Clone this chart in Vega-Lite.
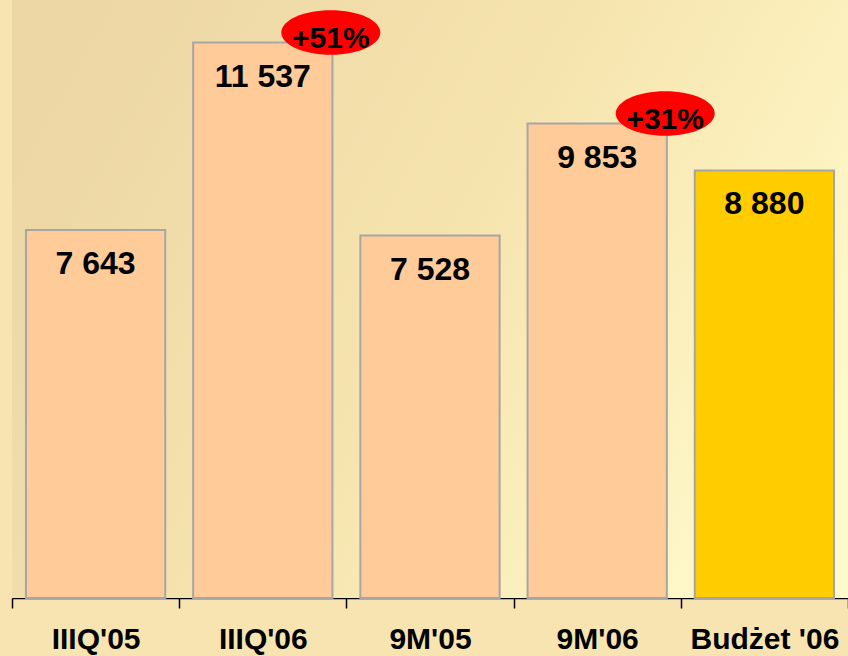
{
  "$schema": "https://vega.github.io/schema/vega-lite/v6.json",
  "width": 836,
  "height": 598,
  "autosize": {"type": "none"},
  "padding": {"left": 12, "top": 0, "right": 0, "bottom": 58},
  "background": "#F7E4B0",
  "config": {"view": {"stroke": null}},
  "data": {
    "values": [
      {"period": "IIIQ'05", "value": 7643, "label": "7 643", "kind": "actual", "change": null},
      {"period": "IIIQ'06", "value": 11537, "label": "11 537", "kind": "actual", "change": "+51%"},
      {"period": "9M'05", "value": 7528, "label": "7 528", "kind": "actual", "change": null},
      {"period": "9M'06", "value": 9853, "label": "9 853", "kind": "actual", "change": "+31%"},
      {"period": "Budżet '06", "value": 8880, "label": "8 880", "kind": "budget", "change": null}
    ]
  },
  "layer": [
    {
      "data": {"values": [{}]},
      "mark": {
        "type": "rect",
        "color": {
          "gradient": "linear",
          "x1": 0, "y1": 0.3, "x2": 1, "y2": 0.7,
          "stops": [
            {"offset": 0, "color": "#ECD7A5"},
            {"offset": 0.5, "color": "#F6E4AE"},
            {"offset": 1, "color": "#FFFACB"}
          ]
        }
      },
      "encoding": {}
    },
    {
      "mark": {"type": "bar", "width": {"band": 0.833}, "stroke": "#A6A6A6", "strokeWidth": 2},
      "encoding": {
        "x": {
          "field": "period",
          "type": "nominal",
          "sort": null,
          "scale": {"paddingInner": 0, "paddingOuter": 0},
          "axis": {
            "title": null,
            "domainColor": "#000000",
            "domainWidth": 1.5,
            "tickColor": "#000000",
            "tickWidth": 1.5,
            "tickSize": 10,
            "tickBand": "extent",
            "labelAngle": 0,
            "labelFont": "Liberation Sans, Arial, sans-serif",
            "labelFontWeight": "bold",
            "labelFontSize": 30,
            "labelColor": "#000000",
            "labelBaseline": "alphabetic",
            "labelPadding": 40,
            "labelOverlap": false,
            "labelFlush": false,
            "grid": false
          }
        },
        "y": {
          "field": "value",
          "type": "quantitative",
          "scale": {"domain": [0, 12420], "nice": false},
          "axis": null
        },
        "color": {
          "field": "kind",
          "type": "nominal",
          "scale": {"domain": ["actual", "budget"], "range": ["#FFCC99", "#FFCC00"]},
          "legend": null
        }
      }
    },
    {
      "mark": {"type": "text", "dy": 44, "baseline": "alphabetic", "align": "center", "fontSize": 32, "fontWeight": "bold", "font": "Liberation Sans, Arial, sans-serif", "color": "#000000"},
      "encoding": {
        "x": {"field": "period", "type": "nominal", "sort": null},
        "y": {"field": "value", "type": "quantitative"},
        "text": {"field": "label"}
      }
    },
    {
      "transform": [{"filter": "datum.change != null"}],
      "mark": {
        "type": "point",
        "shape": "M-1,0A1,0.45,0,1,0,1,0A1,0.45,0,1,0,-1,0Z",
        "size": 9801,
        "filled": true,
        "color": "#FF0000",
        "opacity": 1,
        "strokeWidth": 0,
        "xOffset": 68,
        "yOffset": -10
      },
      "encoding": {
        "x": {"field": "period", "type": "nominal", "sort": null},
        "y": {"field": "value", "type": "quantitative"}
      }
    },
    {
      "transform": [{"filter": "datum.change != null"}],
      "mark": {"type": "text", "dx": 68, "dy": 5, "baseline": "alphabetic", "align": "center", "fontSize": 30, "fontWeight": "bold", "font": "Liberation Sans, Arial, sans-serif", "color": "#000000"},
      "encoding": {
        "x": {"field": "period", "type": "nominal", "sort": null},
        "y": {"field": "value", "type": "quantitative"},
        "text": {"field": "change"}
      }
    }
  ]
}
